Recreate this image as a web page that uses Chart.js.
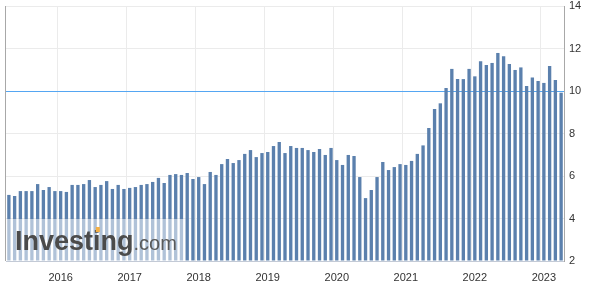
<!DOCTYPE html>
<html>
<head>
<meta charset="utf-8">
<script src="https://cdn.jsdelivr.net/npm/chart.js@4/dist/chart.umd.min.js"></script>
<style>
    html, body { margin: 0; padding: 0; background: #fff; }
    #wrap { width: 600px; height: 292px; }
</style>
</head>
<body>
<div id="wrap"><canvas id="rateChart"></canvas></div>
<script>
// Monthly values, Apr 2015 - Apr 2023
const startYear = 2015;
const startMonth = 3; // April (0-based)

const values = [
    5.11, 5.06, 5.29, 5.29, 5.29, 5.62, 5.34, 5.48, 5.29,                  // 2015 Apr-Dec
    5.29, 5.25, 5.58, 5.58, 5.62, 5.81, 5.48, 5.58, 5.76, 5.39, 5.58, 5.39, // 2016
    5.44, 5.48, 5.58, 5.62, 5.72, 5.91, 5.67, 6.05, 6.09, 6.05, 6.14, 5.86, // 2017
    5.95, 5.62, 6.19, 6.05, 6.56, 6.80, 6.61, 6.75, 7.04, 7.22, 6.89, 7.08, // 2018
    7.13, 7.41, 7.60, 7.08, 7.41, 7.32, 7.32, 7.22, 7.13, 7.27, 6.99, 7.32, // 2019
    6.75, 6.52, 6.99, 6.94, 5.95, 4.96, 5.34, 5.95, 6.66, 6.28, 6.42, 6.56, // 2020
    6.52, 6.71, 7.04, 7.44, 8.26, 9.15, 9.42, 10.14, 11.04, 10.56, 10.56, 11.04, // 2021
    10.69, 11.40, 11.22, 11.32, 11.79, 11.63, 11.27, 10.99, 11.11, 10.24, 10.64, 10.47, // 2022
    10.38, 11.18, 10.52, 9.92                                              // 2023 Jan-Apr
];

const yTicks = [2, 4, 6, 8, 10, 12, 14];
const refLevel = 10;

// month categories, one per value
const months = values.map((v, i) => {
    const m = startMonth + i;
    return { year: startYear + Math.floor(m / 12), month: m % 12 };
});
const labels = months.map(d => `${d.year}-${String(d.month + 1).padStart(2, '0')}`);

// reference line, left border + watermark
const decorPlugin = {
    id: 'decor',
    beforeDatasetsDraw(chart) {
        const { ctx, chartArea, scales } = chart;
        const y = Math.round(scales.y.getPixelForValue(refLevel));
        ctx.save();
        ctx.fillStyle = '#55a6f2';
        ctx.fillRect(chartArea.left, y, chartArea.right - chartArea.left, 1);
        ctx.restore();
    },
    afterDatasetsDraw(chart) {
        const { ctx, chartArea } = chart;
        ctx.save();
        // left border
        ctx.fillStyle = '#a8a8a8';
        ctx.fillRect(Math.round(chartArea.left) - 1, chartArea.top, 1, chartArea.bottom - chartArea.top);

        // watermark box
        ctx.fillStyle = 'rgba(255,255,255,0.52)';
        ctx.fillRect(chartArea.left, 219, 185 - chartArea.left, chartArea.bottom - 219);

        ctx.textBaseline = 'alphabetic';
        ctx.font = 'bold 27px "Liberation Sans", Arial, sans-serif';
        ctx.fillStyle = '#4b4b4b';
        const x0 = 15, base = 250;
        ctx.fillText('Investing', x0, base);
        const w1 = ctx.measureText('Investing').width;
        const wPre = ctx.measureText('Invest').width;
        const wI = ctx.measureText('i').width;
        // orange dot on the second "i"
        ctx.fillStyle = '#f4b046';
        ctx.fillRect(x0 + wPre + wI / 2 - 1, 227, 4, 5);

        ctx.font = '20px "Liberation Sans", Arial, sans-serif';
        ctx.fillStyle = '#5a5a5a';
        ctx.fillText('.com', x0 + w1, base);
        ctx.restore();
    }
};

new Chart(document.getElementById('rateChart'), {
    type: 'bar',
    data: {
        labels: labels,
        datasets: [{
            data: values,
            backgroundColor: '#5b80ad',
            base: 2,
            categoryPercentage: 1,
            barPercentage: 0.58
        }]
    },
    options: {
        responsive: true,
        maintainAspectRatio: false,
        animation: false,
        layout: { padding: { top: 6, left: 6, right: 0, bottom: 0 } },
        plugins: {
            legend: { display: false },
            tooltip: { enabled: false }
        },
        scales: {
            x: {
                grid: {
                    offset: true,
                    drawTicks: false,
                    color: c => (c.index !== undefined && months[c.index] && months[c.index].month === 0) ? '#ebebeb' : 'rgba(0,0,0,0)'
                },
                border: { color: '#c3cad6' },
                ticks: {
                    autoSkip: false,
                    maxRotation: 0,
                    padding: 10,
                    color: '#333',
                    font: { family: '"Liberation Sans", Arial, sans-serif', size: 11 },
                    callback: (val, i) => months[i].month === 0 ? String(months[i].year) : ''
                },
                afterFit: s => { s.height = 31; s.paddingLeft = 0; s.paddingRight = 0; }
            },
            y: {
                position: 'right',
                min: 2,
                max: 14,
                afterBuildTicks: s => { s.ticks = yTicks.map(v => ({ value: v })); },
                grid: {
                    drawTicks: false,
                    color: c => c.tick && c.tick.value === refLevel ? 'rgba(0,0,0,0)' : '#ebebeb'
                },
                border: { color: '#a8a8a8' },
                ticks: {
                    padding: 5,
                    color: '#333',
                    font: { family: '"Liberation Sans", Arial, sans-serif', size: 11 }
                },
                afterFit: s => { s.width = 36; s.paddingTop = 0; s.paddingBottom = 0; }
            }
        }
    },
    plugins: [decorPlugin]
});
</script>
</body>
</html>
